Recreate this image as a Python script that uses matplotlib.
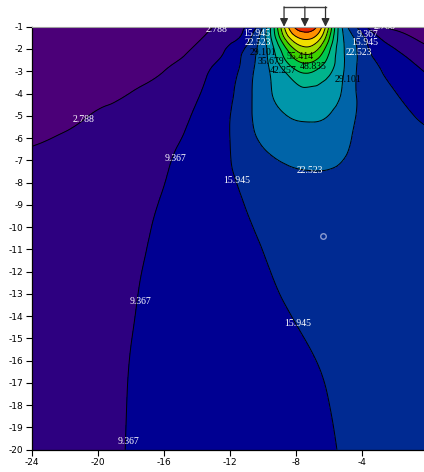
import numpy as np
import matplotlib
matplotlib.use("Agg")
import matplotlib.pyplot as plt
import matplotlib.tri as mtri
import matplotlib.transforms as mtransforms

plt.rcParams['axes.unicode_minus'] = False

# ---------------- data ----------------
x_nodes = [-24, -21, -18, -16, -14, -12.5, -11.5, -10.5, -9.5, -8.5, -7.5,
           -6.5, -5.5, -4.5, -3.5, -2, 0]
y_nodes = [-1, -1.5, -2, -2.5, -3, -4, -5, -6, -7.5, -9, -11, -13, -15, -17.5, -20]

row_y1 = [-10, -10, -10, -6.2, -0.2, 4.28, 7.27, 14.3, 37, 68, 80, 70, 37, 17.5, 7.2, 0.8, -6]
row_y1_5 = [-10, -10, -9.9, -4.07, 1.76, 6.15, 9.07, 18.87, 36, 60, 70, 62, 36, 22.5, 12.93, 6.34, -0.77]
row_y2 = [-10, -10, -8.4, -2.26, 3.86, 8.45, 13.37, 21.35, 33, 50, 60, 53, 34.5, 24.0, 15.28, 9.37, 3.9]
row_y2_5 = [-10, -10, -4.6, 0.58, 5.78, 9.97, 14.95, 22.29, 31.5, 44, 51, 46, 34, 24.0, 17.26, 11.87, 6.3]
row_y3 = [-10, -8.36, -1.67, 2.788, 7.25, 11.7, 15.945, 23.0, 29.8, 37.5, 43.5, 40, 33, 23.5, 18.52, 13.42, 8.8]
row_y4 = [-6.0, -1.49, 2.97, 5.53, 8.86, 13.05, 17.4, 23.58, 28.9, 32.3, 34, 33.3, 30.5, 23.3, 20.33, 16.22, 11.8]
row_y5 = [-0.76, 2.29, 5.02, 7.18, 10.07, 14.06, 18.18, 23.21, 26.5, 29.2, 30.0, 29.8, 27.3, 22.9, 21.0, 18.3, 14.7]
row_y6 = [1.93, 4.11, 6.33, 8.18, 10.91, 14.54, 17.82, 22.09, 24.3, 26.0, 26.9, 26.8, 25.2, 22.1, 20.3, 18.8, 17.0]
row_y7_5 = [4.5, 5.90, 7.61, 9.11, 11.84, 14.73, 16.5, 18.6, 20.6, 21.8, 22.35, 22.45, 22.0, 21.0, 20.2, 19.1, 18.6]
row_y9 = [5.0, 6.43, 8.20, 9.71, 12.14, 14.26, 15.52, 16.7, 17.95, 18.9, 19.45, 19.7, 19.75, 19.6, 19.3, 18.9, 18.6]
row_y11 = [5.5, 6.96, 8.73, 10.19, 12.11, 13.66, 14.66, 15.57, 16.39, 17.15, 17.7, 18.0, 18.2, 18.3, 18.3, 18.2, 18.1]
row_y13 = [6.0, 7.40, 9.09, 10.43, 12.00, 13.24, 14.06, 14.86, 15.60, 16.28, 16.85, 17.2, 17.5, 17.7, 17.8, 17.8, 17.8]
row_y15 = [6.45, 7.89, 9.33, 10.58, 11.84, 12.79, 13.42, 14.05, 14.68, 15.31, 15.945, 16.45, 16.8, 17.0, 17.2, 17.3, 17.4]
row_y17_5 = [6.85, 8.15, 9.48, 10.56, 11.65, 12.46, 13.0, 13.54, 14.08, 14.62, 15.16, 15.71, 16.25, 16.5, 16.8, 17.0, 17.2]
row_y20 = [7.2, 8.34, 9.52, 10.55, 11.58, 12.35, 12.87, 13.38, 13.9, 14.41, 14.93, 15.44, 15.96, 16.35, 16.65, 16.9, 17.1]

levels = [2.788, 9.367, 15.945, 22.523, 29.101, 35.679, 42.257, 48.835,
          55.414, 61.992, 68.570, 75.148]
level_labels = ['2.788', '9.367', '15.945', '22.523', '29.101', '35.679', '42.257',
                '48.835', '55.414', '61.992', '68.570', '75.148']
band_colors = ['#4b0078', '#2d0080', '#000092', '#002a92', '#0064a8', '#0096aa',
               '#00b48c', '#00c850', '#3cd200', '#a0dc00', '#f0e000', '#ff9000', '#e62800']

load_x = [-8.73, -7.47, -6.22]
probe_x, probe_y = -6.35, -10.4

x_ticks = [-24, -20, -16, -12, -8, -4]
y_ticks = list(range(-20, 0))

# ---------------- figure ----------------
fig = plt.figure(figsize=(4.24, 4.72), dpi=100)
ax = fig.add_axes([0.0748, 0.0472, 1.0 - 0.0748, 0.8962])

Z = np.array([row_y1, row_y1_5, row_y2, row_y2_5, row_y3, row_y4, row_y5, row_y6,
              row_y7_5, row_y9, row_y11, row_y13, row_y15, row_y17_5, row_y20])
ny, nx = Z.shape
XX, YY = np.meshgrid(np.array(x_nodes, float), np.array(y_nodes, float))
idx = np.arange(ny * nx).reshape(ny, nx)
tris = []
for i in range(ny - 1):
    for j in range(nx - 1):
        a, b, c, d = idx[i, j], idx[i, j + 1], idx[i + 1, j + 1], idx[i + 1, j]
        tris.append([a, b, c])
        tris.append([a, c, d])
tri = mtri.Triangulation(XX.ravel(), YY.ravel(), triangles=np.array(tris))
interp = mtri.CubicTriInterpolator(tri, Z.ravel(), kind='min_E')
refiner = mtri.UniformTriRefiner(tri)
tri_f, z_f = refiner.refine_field(Z.ravel(), triinterpolator=interp, subdiv=4)

fill_levels = [-100] + levels + [500]
ax.tricontourf(tri_f, z_f, levels=fill_levels, colors=band_colors)
ax.tricontour(tri_f, z_f, levels=levels, colors='black', linewidths=0.7)

# contour labels (text drawn over lines)
lab_font = dict(family='Liberation Serif', fontsize=7, ha='center', va='center')
white_labels = [
    (0, -20.87, -5.19), (0, -12.8, -1.12), (0, -2.65, -0.98),
    (1, -15.32, -6.91), (1, -17.44, -13.35), (1, -18.16, -19.61),
    (1, -10.5, -0.92), (1, -3.65, -1.37),
    (2, -11.61, -7.92), (2, -7.89, -14.32), (2, -10.4, -1.3), (2, -3.86, -1.73),
    (3, -7.19, -7.44), (3, -10.34, -1.73), (3, -4.22, -2.18),
]
black_labels = [
    (4, -9.99, -2.14), (4, -4.83, -3.39), (5, -9.5, -2.56), (6, -8.77, -2.95),
    (7, -6.95, -2.77), (8, -7.74, -2.36),
]
for i, x, y in white_labels:
    ax.text(x, y, level_labels[i], color='white', clip_on=True, **lab_font)
for i, x, y in black_labels:
    ax.text(x, y, level_labels[i], color='black', clip_on=True, **lab_font)

# probe marker
ax.plot([probe_x], [probe_y], marker='o', ms=4, mfc='none', mec='#8a9ad0', mew=1.0)

ax.set_xlim(-24, -0.26)
ax.set_ylim(-20, -1)
ax.set_xticks(x_ticks)
ax.set_yticks(y_ticks)
ax.tick_params(direction='out', length=4, width=0.8, labelsize=6.5, pad=2)
for lab in ax.get_xticklabels() + ax.get_yticklabels():
    lab.set_family('DejaVu Sans')
ax.spines['right'].set_visible(False)
ax.spines['top'].set_color('#a0a0a0')
ax.spines['left'].set_linewidth(0.9)
ax.spines['bottom'].set_linewidth(0.9)

# load arrows above the plot
trans = mtransforms.blended_transform_factory(ax.transData, ax.transAxes)
bar_y = 1.047
ax.plot([load_x[0], load_x[-1]], [bar_y, bar_y], color='#404040', lw=1.0,
        transform=trans, clip_on=False)
for lx in load_x:
    ax.annotate('', xy=(lx, 1.0), xytext=(lx, bar_y), xycoords=trans, textcoords=trans,
                arrowprops=dict(arrowstyle='-|>', color='#303030', lw=0.9,
                                mutation_scale=12, shrinkA=0, shrinkB=0))

fig.savefig('out.png', dpi=100)
